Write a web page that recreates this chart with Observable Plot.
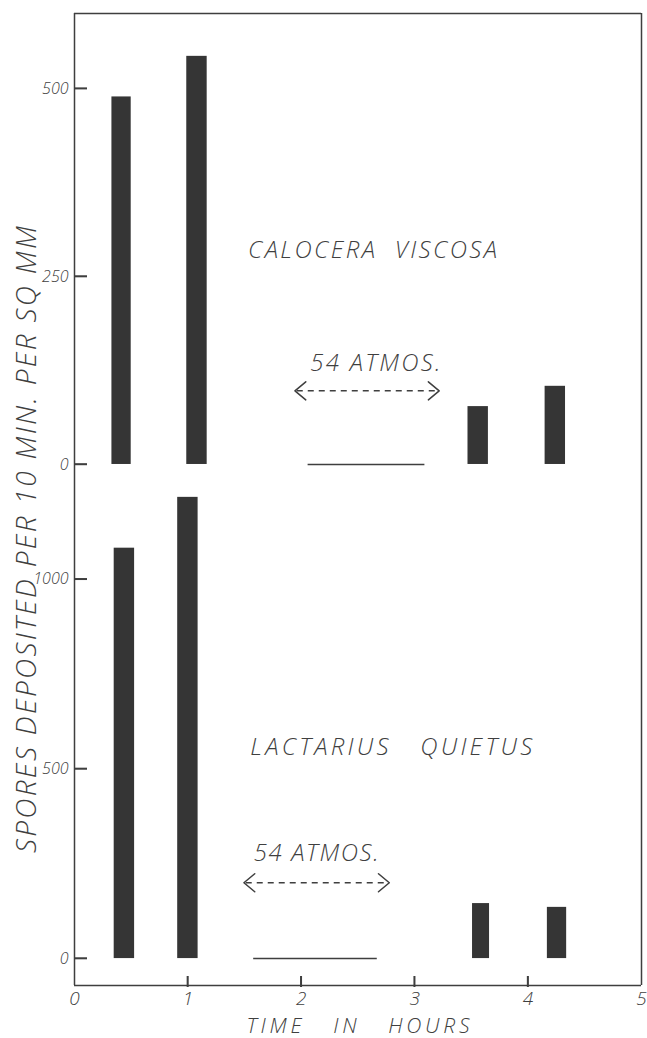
<!DOCTYPE html>
<html>
<head>
<meta charset="utf-8">
<script src="https://cdn.jsdelivr.net/npm/d3@7"></script>
<script src="https://cdn.jsdelivr.net/npm/@observablehq/plot@0.6"></script>
<style>
  html, body { margin: 0; padding: 0; background: #fff; }
  #chart { width: 647px; height: 1038px; overflow: hidden; }
  #chart svg { display: block; }
</style>
</head>
<body>
<div id="chart"></div>
<script>
// ---------- data ----------
const hourTicks = [0, 1, 2, 3, 4, 5];
const caloceraTicks = [0, 250, 500];
const lactariusTicks = [0, 500, 1000];

// Calocera viscosa (top panel)
const caloceraStart = [0.33, 0.99, 3.47, 4.15];
const caloceraEnd   = [0.50, 1.17, 3.65, 4.33];
const caloceraValue = [489, 543, 77, 104];
const caloceraZero  = [2.06, 3.09];      // period with no deposit (value 0)
const caloceraPressure = [1.96, 3.20];   // 54 atmospheres applied

// Lactarius quietus (bottom panel)
const lactariusStart = [0.35, 0.91, 3.51, 4.17];
const lactariusEnd   = [0.53, 1.09, 3.66, 4.34];
const lactariusValue = [1082, 1216, 145, 135];
const lactariusZero  = [1.58, 2.67];
const lactariusPressure = [1.51, 2.76];

const speciesNames = ["CALOCERA  VISCOSA", "LACTARIUS   QUIETUS"];
const pressureLabel = "54 ATMOS.";
const xTitle = "TIME   IN   HOURS";
const yTitle = "SPORES DEPOSITED PER 10 MIN. PER SQ MM";

// annotation placement (data units) and lettering widths (px)
const caloceraNote = {nameX: 1.53, nameY: 285, labelX: 2.08, labelY: 134, arrowY: 98, nameLen: 249, labelLen: 130};
const lactariusNote = {nameX: 1.55, nameY: 556, labelX: 1.58, labelY: 277, arrowY: 200, nameLen: 282, labelLen: 125};

// ---------- layout & styling ----------
const W = 647, ML = 74, MR = 6;
const xDomain = [0, 5];
const topDomain = [-16, 600], topH = 476, topMT = 13;
const botDomain = [-71, 1271], botH = 562, botMB = 53;
const pxPerHour = (W - ML - MR) / (xDomain[1] - xDomain[0]);
const botPxPerUnit = (botH - botMB) / (botDomain[1] - botDomain[0]);

const ink = "#3f3f3f";
const barFill = "#353535";
const font = "'Open Sans', 'Liberation Sans', 'DejaVu Sans', sans-serif";
const textStyle = {fill: ink, fontStyle: "italic", fontWeight: 300};
const fmt = d => String(d);

const rows = (s, e, v) => s.map((d, i) => ({start: d, end: e[i], value: v[i]}));
const calocera = rows(caloceraStart, caloceraEnd, caloceraValue);
const lactarius = rows(lactariusStart, lactariusEnd, lactariusValue);

function yAxisMarks(ticks) {
  const segs = ticks.map(t => ({x1: xDomain[0], x2: xDomain[0] + 13 / pxPerHour, y: t}));
  return [
    Plot.ruleY(segs, {x1: "x1", x2: "x2", y: "y", stroke: ink, strokeWidth: 1.5}),
    Plot.axisY({ticks, anchor: "left", tickSize: 0, tickPadding: 6, tickFormat: fmt,
      fontSize: 16, fontStyle: "italic", fontWeight: 300, label: null})
  ];
}

function xAxisMarks(ticks) {
  const segs = ticks.slice(1, -1).map(t => ({x: t, y1: botDomain[0] - 2 / botPxPerUnit, y2: botDomain[0] + 9 / botPxPerUnit}));
  return [
    Plot.ruleX(segs, {x: "x", y1: "y1", y2: "y2", stroke: ink, strokeWidth: 1.5}),
    Plot.axisX({ticks, anchor: "bottom", tickSize: 0, tickPadding: 6, tickFormat: fmt,
      fontSize: 19, fontStyle: "italic", fontWeight: 300, label: null})
  ];
}

function annotationMarks(zero, pressure, note, name) {
  return [
    Plot.ruleY([{x1: zero[0], x2: zero[1]}], {x1: "x1", x2: "x2", y: 0, stroke: ink, strokeWidth: 1.5}),
    Plot.link([{x1: pressure[0], x2: pressure[1]}], {
      x1: "x1", x2: "x2", y1: note.arrowY, y2: note.arrowY,
      stroke: ink, strokeWidth: 1.5, strokeDasharray: "6,5",
      markerStart: "arrow-reverse", markerEnd: "arrow"
    }),
    Plot.text([pressureLabel], {x: note.labelX, y: note.labelY, textAnchor: "start", fontSize: 24, ...textStyle}),
    Plot.text([name], {x: note.nameX, y: note.nameY, textAnchor: "start", fontSize: 24, ...textStyle})
  ];
}

function fixMarkers(svg) {
  svg.querySelectorAll("marker").forEach(m => {
    m.setAttribute("viewBox", "-6 -6 12 12");
    m.setAttribute("markerWidth", 14.4);
    m.setAttribute("markerHeight", 14.4);
    m.setAttribute("stroke-dasharray", "none");
    m.setAttribute("stroke-width", 0.85);
    const p = m.querySelector("path");
    if (p) p.setAttribute("d", "M-5,-5L1,0L-5,5");
  });
}

function fitText(svg, content, len) {
  svg.querySelectorAll("text").forEach(t => {
    if (t.textContent === content) {
      t.setAttribute("textLength", len);
      t.setAttribute("lengthAdjust", "spacing");
    }
  });
}

// tick strokes placed through the plot's own scales (drawn on top)
function addTicks(svg, yTicks, xTicks) {
  const x = svg.scale("x"), y = svg.scale("y");
  const g = d3.select(svg).append("g").attr("stroke", ink).attr("stroke-width", 1.5).attr("fill", "none");
  const x0 = x.apply(xDomain[0]);
  yTicks.forEach(t => {
    const py = y.apply(t);
    g.append("line").attr("x1", x0).attr("x2", x0 + 13).attr("y1", py).attr("y2", py);
  });
  if (xTicks) {
    const y0 = y.apply(botDomain[0]);
    xTicks.slice(1, -1).forEach(t => {
      const px = x.apply(t);
      g.append("line").attr("x1", px).attr("x2", px).attr("y1", y0 + 2).attr("y2", y0 - 9);
    });
  }
}

const topPlot = Plot.plot({
  width: W, height: topH,
  marginLeft: ML, marginRight: MR, marginTop: topMT, marginBottom: 0,
  style: {fontFamily: font, color: ink, background: "#fff"},
  x: {domain: xDomain, axis: null},
  y: {domain: topDomain, axis: null},
  marks: [
    Plot.ruleX(xDomain, {stroke: ink, strokeWidth: 1.5}),
    Plot.ruleY([topDomain[1]], {stroke: ink, strokeWidth: 1.5}),
    ...yAxisMarks(caloceraTicks),
    Plot.rectY(calocera, {x1: "start", x2: "end", y: "value", fill: barFill}),
    ...annotationMarks(caloceraZero, caloceraPressure, caloceraNote, speciesNames[0])
  ]
});

const bottomPlot = Plot.plot({
  width: W, height: botH,
  marginLeft: ML, marginRight: MR, marginTop: 0, marginBottom: botMB,
  style: {fontFamily: font, color: ink, background: "#fff", overflow: "visible"},
  x: {domain: xDomain},
  y: {domain: botDomain, axis: null},
  marks: [
    Plot.ruleX(xDomain, {stroke: ink, strokeWidth: 1.5}),
    Plot.ruleY([botDomain[0]], {stroke: ink, strokeWidth: 1.5}),
    ...yAxisMarks(lactariusTicks),
    ...xAxisMarks(hourTicks),
    Plot.rectY(lactarius, {x1: "start", x2: "end", y: "value", fill: barFill}),
    ...annotationMarks(lactariusZero, lactariusPressure, lactariusNote, speciesNames[1]),
    Plot.text([xTitle], {frameAnchor: "bottom", dy: 47, fontSize: 21, ...textStyle}),
    Plot.text([yTitle], {frameAnchor: "top-left", dx: -47, dy: 63, rotate: -90,
      textAnchor: "middle", lineAnchor: "middle", fontSize: 28, ...textStyle})
  ]
});

fixMarkers(topPlot);
fixMarkers(bottomPlot);
fitText(topPlot, speciesNames[0], caloceraNote.nameLen);
fitText(topPlot, pressureLabel, caloceraNote.labelLen);
fitText(bottomPlot, speciesNames[1], lactariusNote.nameLen);
fitText(bottomPlot, pressureLabel, lactariusNote.labelLen);
fitText(bottomPlot, xTitle, 223);
fitText(bottomPlot, yTitle, 627);
try { addTicks(topPlot, caloceraTicks, null); } catch (e) {}
try { addTicks(bottomPlot, lactariusTicks, hourTicks); } catch (e) {}

const chart = document.getElementById("chart");
chart.appendChild(topPlot);
chart.appendChild(bottomPlot);
</script>
</body>
</html>
